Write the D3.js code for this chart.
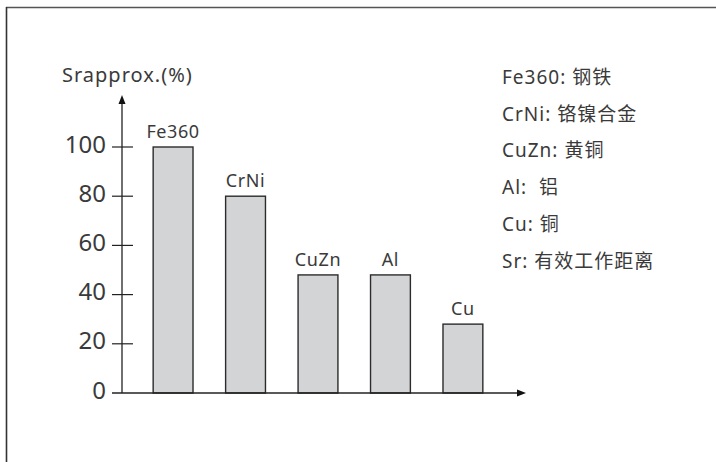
<!DOCTYPE html>
<html>
<head>
<meta charset="utf-8">
<script src="https://cdn.jsdelivr.net/npm/d3@7"></script>
<style>
  body { margin: 0; background: #fff; }
  text { font-family: "Noto Sans", "Noto Sans CJK SC", sans-serif; fill: #3a3a3a; }
</style>
</head>
<body>
<div id="plot"></div>
<script>

var categories = ['Fe360', 'CrNi', 'CuZn', 'Al', 'Cu'];
var values = [100, 80, 48, 48, 28];
var yTicks = [0, 20, 40, 60, 80, 100];
var legendLines = ['Fe360: 钢铁', 'CrNi: 铬镍合金', 'CuZn: 黄铜', 'Al:  铝', 'Cu: 铜', 'Sr: 有效工作距离'];
var yTitle = 'Srapprox.(%)';

window.onload = function(){
    buildChart();
};

function buildChart(){

    var width = 716, height = 462;

    var svg = d3.select("#plot")
                .append("svg")
                .attr("width", width)
                .attr("height", height);

    // frame (only top and left edges visible)
    svg.append("line")
        .attr("x1", 6).attr("y1", 7.5).attr("x2", width).attr("y2", 7.5)
        .style("stroke", "#555").style("stroke-width", 1.6);
    svg.append("line")
        .attr("x1", 6.5).attr("y1", 7).attr("x2", 6.5).attr("y2", height)
        .style("stroke", "#333").style("stroke-width", 1.6);

    var axisX = 122, baseY = 393;

    var xScale = d3.scaleBand()
        .domain(categories)
        .range([axisX, 514])
        .paddingInner(0.45)
        .paddingOuter(0.43);

    var yScale = d3.scaleLinear()
        .domain([0, 100])
        .range([baseY, 147]);

    // bars
    svg.append("g")
        .selectAll("rect")
        .data(categories)
        .enter()
        .append("rect")
        .attr("x", d => xScale(d))
        .attr("y", (d, i) => yScale(values[i]))
        .attr("width", xScale.bandwidth())
        .attr("height", (d, i) => yScale(0) - yScale(values[i]))
        .style("fill", "#d3d4d6")
        .style("stroke", "#2b2b2b")
        .style("stroke-width", 1.4);

    // bar labels
    svg.append("g")
        .selectAll("text")
        .data(categories)
        .enter()
        .append("text")
        .attr("x", d => xScale(d) + xScale.bandwidth() / 2)
        .attr("y", (d, i) => yScale(values[i]) - 9)
        .attr("text-anchor", "middle")
        .style("font-size", "18px")
        .style("letter-spacing", "0.6px")
        .text(d => d);

    // axes
    svg.append("line")
        .attr("x1", axisX).attr("y1", baseY).attr("x2", axisX).attr("y2", 100)
        .style("stroke", "#222").style("stroke-width", 1.3);
    svg.append("path")
        .attr("d", "M" + axisX + ",95 L" + (axisX - 3.5) + ",104 L" + (axisX + 3.5) + ",104 Z")
        .style("fill", "#111");

    svg.append("line")
        .attr("x1", 112).attr("y1", baseY).attr("x2", 520).attr("y2", baseY)
        .style("stroke", "#222").style("stroke-width", 1.3);
    svg.append("path")
        .attr("d", "M526," + baseY + " L517," + (baseY - 3.5) + " L517," + (baseY + 3.5) + " Z")
        .style("fill", "#111");

    // y ticks
    var tick = svg.append("g")
        .selectAll("g")
        .data(yTicks)
        .enter()
        .append("g");

    tick.filter(d => d > 0)
        .append("line")
        .attr("x1", 112).attr("x2", 133)
        .attr("y1", d => yScale(d)).attr("y2", d => yScale(d))
        .style("stroke", "#222").style("stroke-width", 1.2);

    tick.append("text")
        .attr("x", 106)
        .attr("y", d => yScale(d) - 3)
        .attr("dy", "0.36em")
        .attr("text-anchor", "end")
        .style("font-size", "24px")
        .text(d => d);

    // axis title
    svg.append("text")
        .attr("x", 62)
        .attr("y", 82)
        .style("font-size", "20px")
        .style("letter-spacing", "1px")
        .text(yTitle);

    // legend notes
    svg.append("g")
        .selectAll("text")
        .data(legendLines)
        .enter()
        .append("text")
        .attr("x", 502)
        .attr("y", (d, i) => 84 + i * 36.7)
        .style("font-size", "19px")
        .style("letter-spacing", "1px")
        .style("white-space", "pre")
        .text(d => d);

}
</script>
</body>
</html>
